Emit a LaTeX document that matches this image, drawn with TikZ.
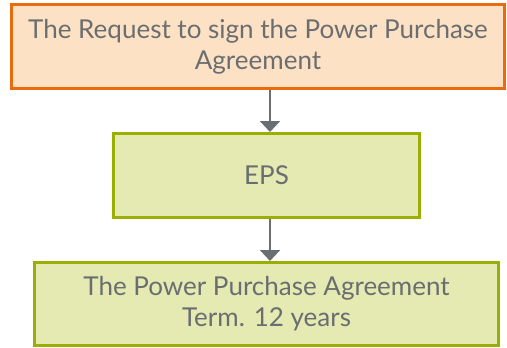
\documentclass[tikz,border=0pt]{standalone}
\usepackage{fontspec}
\setmainfont{Lato}
\usetikzlibrary{arrows.meta}
\definecolor{ppaorange}{HTML}{E96B10}
\definecolor{ppapeach}{HTML}{FCE1C4}
\definecolor{ppagreen}{HTML}{9AAE04}
\definecolor{ppalime}{HTML}{E4EAB2}
\definecolor{ppagrey}{HTML}{6B6E70}
\tikzset{
  stagebox/.style={draw, line width=3pt, inner sep=0pt, align=center,
    text=ppagrey, font=\fontsize{26}{31}\selectfont},
  flowarrow/.style={ppagrey, line width=2pt, -{Triangle[width=20pt,length=11pt]}}
}
\begin{document}
\begin{tikzpicture}[x=1pt, y=-1pt]
        \useasboundingbox (0,0) rectangle (507,348);
        \node[stagebox, draw=ppaorange, fill=ppapeach, minimum width=493pt, minimum height=84pt]
            (request) at (258,46.5) {The Request to sign the Power Purchase\\Agreement};
        \node[stagebox, draw=ppagreen, fill=ppalime, minimum width=306pt, minimum height=84pt]
            (eps) at (266.5,175.5) {EPS};
        \node[stagebox, draw=ppagreen, fill=ppalime, minimum width=464pt, minimum height=83pt]
            (ppa) at (266.5,304) {The Power Purchase Agreement\\Term. 12 years};
        
        \coordinate (ax) at (270,0);
        \draw[flowarrow] (ax |- request.south) -- (ax |- eps.north);
        \draw[flowarrow] (ax |- eps.south) -- (ax |- ppa.north);
    \end{tikzpicture}
\end{document}
